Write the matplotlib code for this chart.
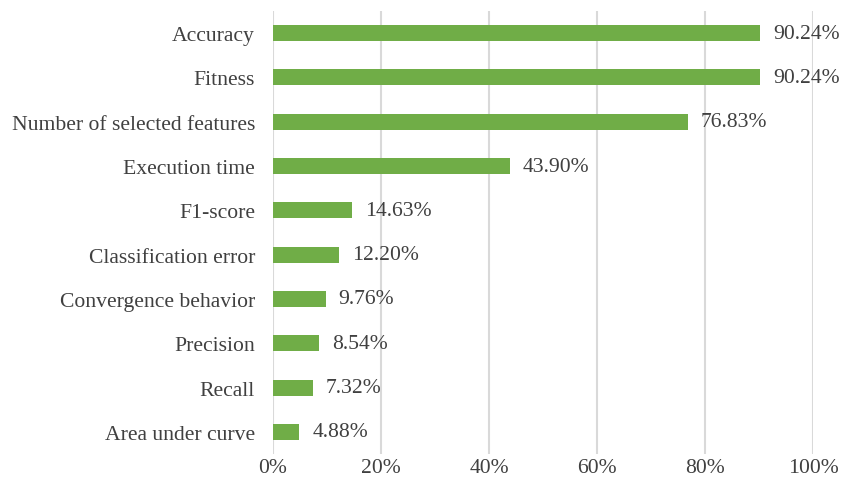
import numpy as np
import matplotlib
matplotlib.use("Agg")
import matplotlib.pyplot as plt
from matplotlib.ticker import FuncFormatter

plt.rcParams['font.family'] = ['Liberation Serif', 'DejaVu Serif']

categories = ["Accuracy", "Fitness", "Number of selected features", "Execution time",
              "F1-score", "Classification error", "Convergence behavior", "Precision",
              "Recall", "Area under curve"]
values = [90.24, 90.24, 76.83, 43.90, 14.63, 12.20, 9.76, 8.54, 7.32, 4.88]
xticks = [0, 20, 40, 60, 80, 100]

text_col = '#404040'
fs = 15.6
fig = plt.figure(figsize=(8.44, 4.89), dpi=100)
ax = fig.add_axes([273/844, 34/489, 540/844, 443/489])

y = np.arange(len(categories))
ax.barh(y, values, height=0.36, color='#70AD47', zorder=3)
for yi, v in zip(y, values):
    ax.text(v + 2.4, yi, f"{v:.2f}%", va='center', ha='left', fontsize=fs, color=text_col)

ax.set_ylim(len(categories) - 0.5, -0.5)
ax.set_xlim(0, 100)
ax.set_yticks(y)
ax.set_yticklabels(categories, fontsize=fs, color=text_col)
ax.set_xticks(xticks)
ax.xaxis.set_major_formatter(FuncFormatter(lambda v, p: f"{v:.0f}%"))
ax.tick_params(axis='x', labelsize=fs, labelcolor=text_col, length=0, pad=3)
ax.tick_params(axis='y', length=0, pad=13)
ax.grid(axis='x', color='#D9D9D9', linewidth=1.5, zorder=0)
for s in ax.spines.values():
    s.set_visible(False)

fig.savefig("out.png", dpi=100)
